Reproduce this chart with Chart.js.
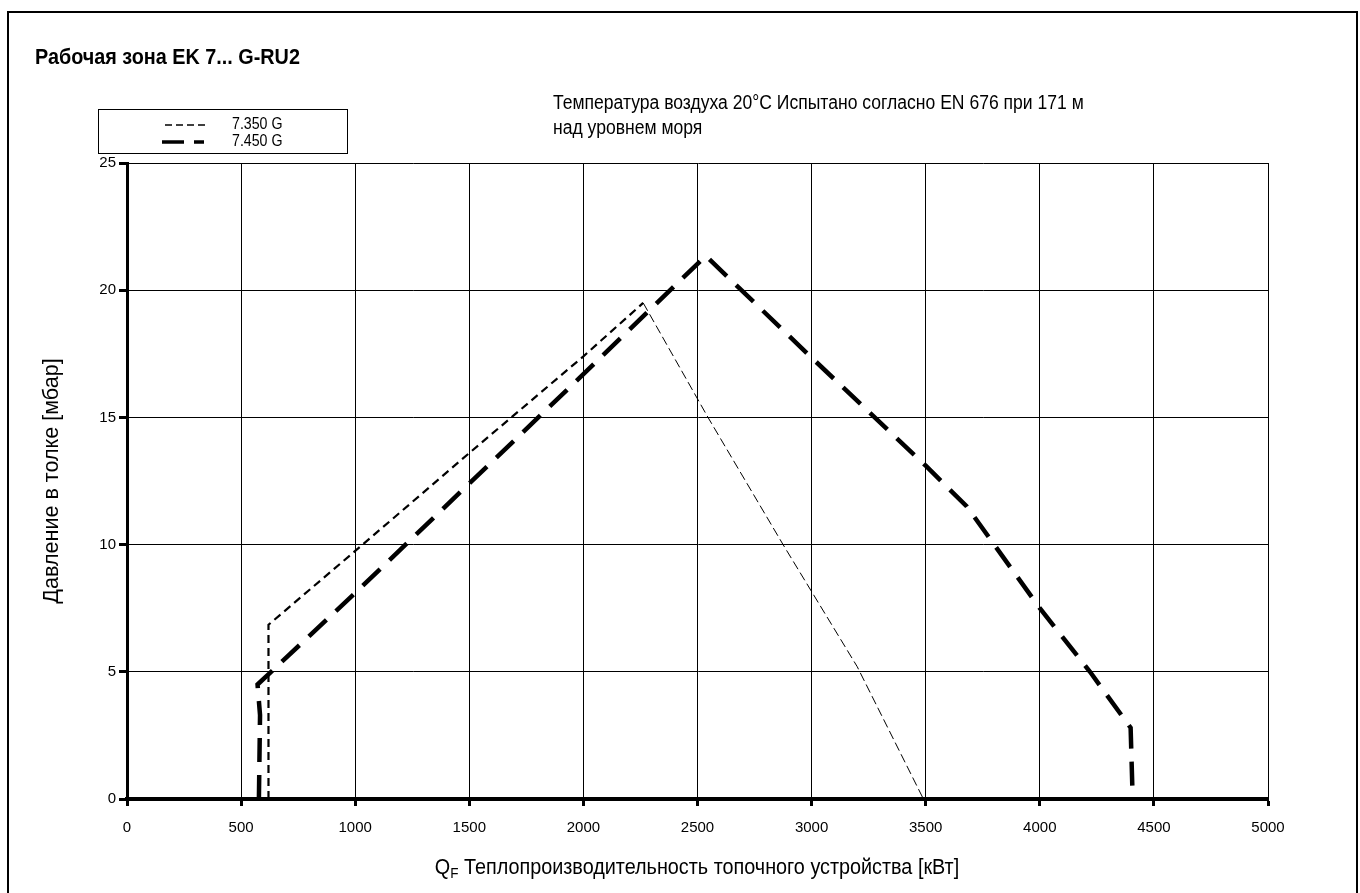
<!DOCTYPE html>
<html>
<head>
<meta charset="utf-8">
<title>Рабочая зона EK 7... G-RU2</title>
<script src="https://cdn.jsdelivr.net/npm/chart.js@4/dist/chart.umd.min.js"></script>
<style>
  html, body { margin: 0; padding: 0; background: #fff; }
  #wrap { width: 1360px; height: 893px; }
</style>
</head>
<body>
<div id="wrap"><canvas id="chart" width="1360" height="893"></canvas></div>
<script>
const q7350 = [620, 620, 1000, 1500, 2000, 2262, 2546, 2875, 3200, 3490];
const p7350 = [0, 6.85, 9.75, 13.6, 17.4, 19.5, 15, 10, 5.2, 0];
const q7450 = [578, 583, 572, 1000, 1500, 2000, 2536, 3000, 3500, 3680, 4000, 4220, 4398, 4407];
const p7450 = [0, 3.3, 4.5, 8.1, 12.4, 16.7, 21.35, 17.35, 13.1, 11.5, 7.5, 5.0, 2.8, 0];
const seriesNames = ['7.350 G', '7.450 G'];
const xTicks = [0, 500, 1000, 1500, 2000, 2500, 3000, 3500, 4000, 4500, 5000];
const yTicks = [0, 5, 10, 15, 20, 25];

const FONT = '"Liberation Sans", Arial, sans-serif';

function toPoints(xs, ys) {
    return xs.map((x, i) => ({ x: x, y: ys[i] }));
}

// узкий текст, как в оригинале
function narrowText(c, text, x, y, font, sx) {
    c.save();
    c.font = font;
    c.translate(x, y);
    c.scale(sx, 1);
    c.fillText(text, 0, 0);
    c.restore();
}

// рамка, заголовок, примечание, легенда, подписи осей
const decor = {
    id: 'decor',
    beforeDraw(chart) {
        const c = chart.ctx;
        c.save();
        c.fillStyle = '#fff';
        c.fillRect(0, 0, chart.width, chart.height);
        c.restore();
    },
    afterDraw(chart) {
        const c = chart.ctx;
        c.save();
        c.strokeStyle = '#000';
        c.lineWidth = 2;
        c.strokeRect(8, 12, 1349, 900);

        c.fillStyle = '#000';
        c.textBaseline = 'middle';
        c.textAlign = 'left';
        narrowText(c, 'Рабочая зона EK 7... G-RU2', 35, 58, 'bold 22px ' + FONT, 0.9);

        narrowText(c, 'Температура воздуха 20°C Испытано согласно EN 676 при 171 м', 553, 104, '19.5px ' + FONT, 0.9);
        narrowText(c, 'над уровнем моря', 553, 129, '19.5px ' + FONT, 0.9);

        // легенда
        c.lineWidth = 1;
        c.strokeRect(98.5, 109.5, 249, 44);
        c.setLineDash([7, 4]);
        c.lineWidth = 1.5;
        c.beginPath(); c.moveTo(165, 125); c.lineTo(206, 125); c.stroke();
        c.setLineDash([22, 10]);
        c.lineWidth = 3.5;
        c.beginPath(); c.moveTo(162, 142); c.lineTo(204, 142); c.stroke();
        c.setLineDash([]);
        narrowText(c, seriesNames[0], 232, 124, '16.5px ' + FONT, 0.86);
        narrowText(c, seriesNames[1], 232, 141, '16.5px ' + FONT, 0.86);

        // подпись оси X с индексом
        const y = 868;
        const sx = 0.9;
        const main = ' Теплопроизводительность топочного устройства [кВт]';
        c.font = '22px ' + FONT;
        const wQ = c.measureText('Q').width * sx;
        const wMain = c.measureText(main).width * sx;
        c.font = '15px ' + FONT;
        const wF = c.measureText('F').width * sx;
        let x = 697 - (wQ + wF + wMain) / 2;
        narrowText(c, 'Q', x, y, '22px ' + FONT, sx);
        x += wQ;
        narrowText(c, 'F', x, y + 6, '15px ' + FONT, sx);
        x += wF;
        narrowText(c, main, x, y, '22px ' + FONT, sx);

        // ось Y: название
        c.translate(52, 481);
        c.rotate(-Math.PI / 2);
        c.textAlign = 'center';
        narrowText(c, 'Давление в толке [мбар]', 0, 0, '22px ' + FONT, 0.98);
        c.restore();
    }
};

const ctx = document.getElementById('chart').getContext('2d');

const chart = new Chart(ctx, {
    type: 'line',
    data: {
        datasets: [{
            label: seriesNames[0],
            data: toPoints(q7350, p7350),
            borderColor: '#000',
            borderWidth: 2.2,
            borderDash: [8, 5],
            pointRadius: 0,
            tension: 0,
            fill: false,
            segment: {
                // нисходящая ветвь нарисована тонкой линией
                borderWidth: c => c.p0.parsed.x >= 2262 ? 1 : undefined,
                borderDash: c => c.p0.parsed.x >= 2262 ? [9, 4] : undefined
            }
        }, {
            label: seriesNames[1],
            data: toPoints(q7450, p7450),
            borderColor: '#000',
            borderWidth: 4.5,
            borderDash: [24, 13],
            pointRadius: 0,
            tension: 0,
            fill: false
        }]
    },
    options: {
        responsive: false,
        animation: false,
        layout: { padding: { top: 163, right: 92, left: 0, bottom: 0 } },
        plugins: {
            legend: { display: false },
            tooltip: { enabled: false }
        },
        scales: {
            x: {
                type: 'linear',
                min: 0,
                max: 5000,
                afterBuildTicks: s => { s.ticks = xTicks.map(v => ({ value: v })); },
                afterFit: s => { s.height = 94; },
                ticks: {
                    color: '#000',
                    font: { family: FONT, size: 15 },
                    padding: 13,
                    maxRotation: 0,
                    callback: v => String(v)
                },
                grid: { color: '#000', lineWidth: 1, tickLength: 7, tickWidth: 3, tickColor: '#000' },
                border: { display: true, color: '#000', width: 4 }
            },
            y: {
                type: 'linear',
                min: 0,
                max: 25,
                afterBuildTicks: s => { s.ticks = yTicks.map(v => ({ value: v })); },
                afterFit: s => { s.width = 127; },
                ticks: {
                    color: '#000',
                    font: { family: FONT, size: 15 },
                    padding: 3,
                    callback: v => String(v)
                },
                grid: { color: '#000', lineWidth: 1, tickLength: 8, tickWidth: 3, tickColor: '#000' },
                border: { display: true, color: '#000', width: 3 }
            }
        }
    },
    plugins: [decor]
});
</script>
</body>
</html>
